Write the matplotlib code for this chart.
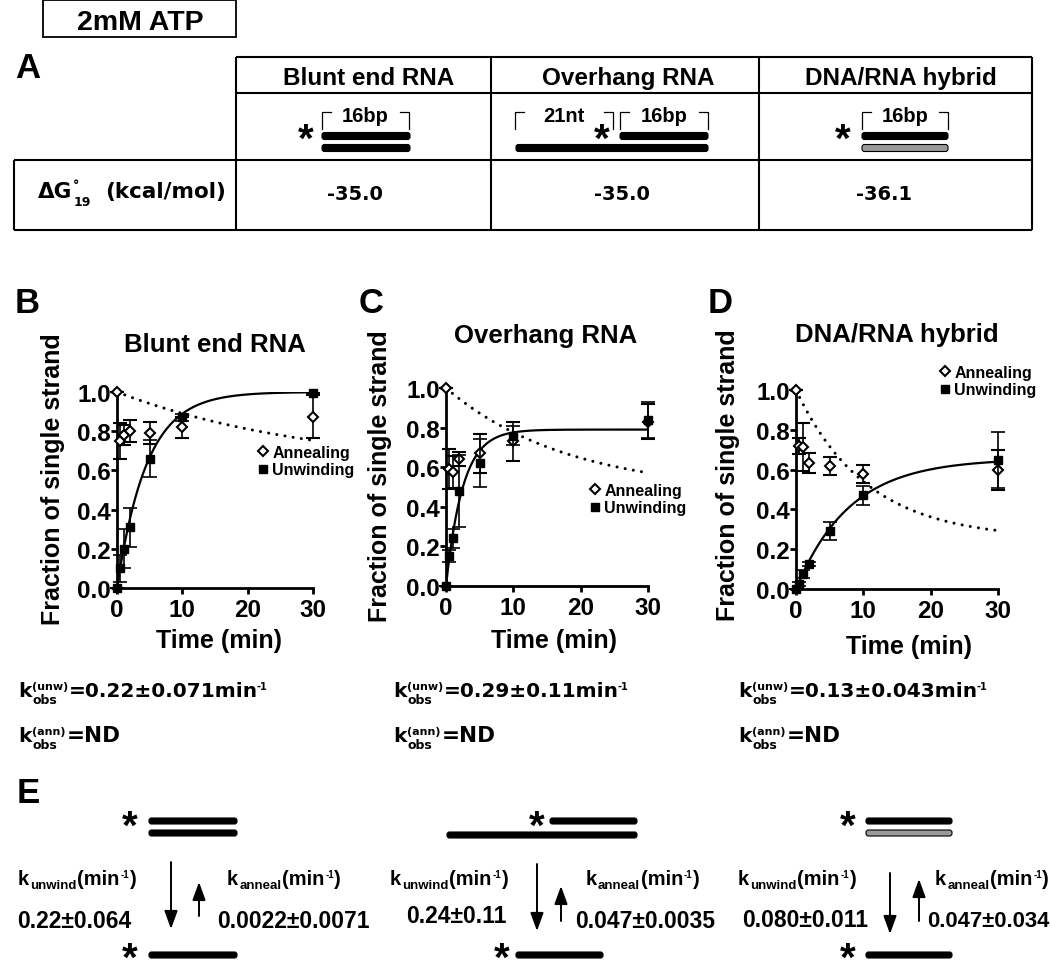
import numpy as np
import matplotlib
matplotlib.use("Agg")
import matplotlib.pyplot as plt
from matplotlib.lines import Line2D
from matplotlib.patches import FancyBboxPatch, Rectangle
from matplotlib.ticker import FormatStrFormatter

plt.rcParams['font.family'] = ['Liberation Sans', 'DejaVu Sans']
plt.rcParams['font.weight'] = 'bold'
plt.rcParams['mathtext.fontset'] = 'custom'
plt.rcParams['mathtext.rm'] = 'Liberation Sans:bold'
plt.rcParams['mathtext.it'] = 'Liberation Sans:bold'
plt.rcParams['mathtext.bf'] = 'Liberation Sans:bold'

W, H = 1050, 978

# time points (min)
time_min = [0, 0.5, 1, 2, 5, 10, 30]

# B: blunt end RNA
blunt_unw = [0.0, 0.10, 0.20, 0.31, 0.66, 0.87, 0.995]
blunt_unw_err = [0.0, 0.07, 0.10, 0.10, 0.095, 0.02, 0.0]
blunt_ann = [1.0, 0.75, 0.78, 0.80, 0.79, 0.82, 0.875]
blunt_ann_err = [0.0, 0.09, 0.05, 0.055, 0.056, 0.055, 0.11]

# C: overhang RNA
over_unw = [0.0, 0.15, 0.24, 0.48, 0.62, 0.76, 0.84]
over_unw_err = [0.0, 0.03, 0.05, 0.18, 0.12, 0.05, 0.09]
over_ann = [1.0, 0.59, 0.575, 0.64, 0.67, 0.73, 0.83]
over_ann_err = [0.0, 0.10, 0.08, 0.035, 0.10, 0.10, 0.09]

# D: DNA/RNA hybrid
hyb_unw = [0.0, 0.025, 0.075, 0.125, 0.29, 0.47, 0.647]
hyb_unw_err = [0.0, 0.01, 0.02, 0.01, 0.045, 0.05, 0.14]
hyb_ann = [1.0, 0.72, 0.715, 0.635, 0.62, 0.58, 0.60]
hyb_ann_err = [0.0, 0.04, 0.12, 0.05, 0.045, 0.045, 0.10]

# fitted curves: unwinding amp*(1-exp(-k t)), annealing c+(1-c)exp(-k t)
unw_fit = [(1.0, 0.22), (0.79, 0.40), (0.655, 0.125)]
ann_fit = [(0.60, 0.032), (0.47, 0.055), (0.25, 0.095)]

titles = ["Blunt end RNA", "Overhang RNA", "DNA/RNA hybrid"]
dG_values = ["-35.0", "-35.0", "-36.1"]
kobs_unw = ["=0.22\u00b10.071min", "=0.29\u00b10.11min", "=0.13\u00b10.043min"]
kunwind = ["0.22\u00b10.064", "0.24\u00b10.11", "0.080\u00b10.011"]
kanneal = ["0.0022\u00b10.0071", "0.047\u00b10.0035", "0.047\u00b10.034"]

series = [
    (blunt_unw, blunt_unw_err, blunt_ann, blunt_ann_err),
    (over_unw, over_unw_err, over_ann, over_ann_err),
    (hyb_unw, hyb_unw_err, hyb_ann, hyb_ann_err),
]

fig = plt.figure(figsize=(10.5, 9.78), dpi=100)
renderer = fig.canvas.get_renderer()

# overlay in pixel units for table, labels and schemes
ax0 = fig.add_axes([0, 0, 1, 1], zorder=0)
ax0.set_xlim(0, W)
ax0.set_ylim(H, 0)
ax0.axis('off')


def hline(x0, x1, y, lw=1.5):
    ax0.plot([x0, x1], [y, y], color='black', lw=lw, solid_capstyle='butt')


def vline(x, y0, y1, lw=1.5):
    ax0.plot([x, x], [y0, y1], color='black', lw=lw, solid_capstyle='butt')


def strand(x0, x1, y, h=7, color='black'):
    ax0.add_patch(FancyBboxPatch((x0, y - h / 2), x1 - x0, h,
                                 boxstyle='round,pad=0,rounding_size=2.5',
                                 fc=color, ec='black', lw=0.8))


def star(x, y, size=29):
    ax0.text(x, y + 0.34 * size * 100 / 72, '$*$', fontsize=size,
             ha='center', va='baseline')


def bracket(x0, x1, label, ytop=113, ybot=130):
    ax0.plot([x0 + 9, x0, x0], [ytop, ytop, ybot], color='black', lw=0.9)
    ax0.plot([x1 - 9, x1, x1], [ytop, ytop, ybot], color='black', lw=0.9)
    ax0.text((x0 + x1) / 2, 122, label, fontsize=14.5, ha='center', va='baseline')


def arrow(x, y_tail, y_tip):
    ax0.annotate('', xy=(x, y_tip), xytext=(x, y_tail),
                 arrowprops=dict(arrowstyle='-|>,head_length=1.1,head_width=0.4',
                                 lw=1.4, color='black', shrinkA=0, shrinkB=0))


def rich(x, y, parts, family='Liberation Sans'):
    # parts: (text, size, dy, gap); gap None keeps x (stacked sub/sup)
    for s, size, dy, gap in parts:
        t = ax0.text(x, y + dy, s, fontsize=size, family=[family, 'DejaVu Sans'],
                     ha='left', va='baseline')
        if gap is not None:
            x += t.get_window_extent(renderer).width + gap


# header box
ax0.add_patch(Rectangle((43, 1), 193, 37, fill=False, ec='black', lw=1.3))
ax0.text(140, 30, '2mM ATP', fontsize=20.5, ha='center', va='baseline')

# panel letters
for lab, x, y in [('A', 15, 78), ('B', 15, 313), ('C', 359, 313), ('D', 708, 313), ('E', 17, 803)]:
    ax0.text(x, y, lab, fontsize=25, ha='left', va='baseline')

# table A
hline(236, 1032, 58)
hline(236, 1032, 94)
hline(14, 1032, 161)
hline(14, 1032, 231)
vline(14, 161, 231)
for x in [236, 491, 759, 1032]:
    vline(x, 58, 231)
for t, x in zip(titles, [369, 628, 901]):
    ax0.text(x, 85, t, fontsize=17.5, ha='center', va='baseline')
rich(38, 198, [('\u0394G', 15.5, 0, 1), ('\u00b0', 9, -9, None), ('19', 9, 8, 14),
               ('(kcal/mol)', 15.5, 0, 0)], family='DejaVu Sans')
for v, x in zip(dG_values, [355, 622, 884]):
    ax0.text(x, 200, v, fontsize=14, family=['DejaVu Sans'], ha='center', va='baseline')

# table schemes
bracket(322, 409, '16bp')
star(306, 137)
strand(322, 410, 137)
strand(322, 410, 149)
bracket(515, 613, '21nt')
bracket(620, 708, '16bp')
star(602, 137)
strand(620, 708, 137)
strand(516, 708, 149)
bracket(862, 948, '16bp')
star(843, 137)
strand(862, 948, 137)
strand(862, 948, 149, color='#9a9a9a')

# kinetic plots B-D
rects = [(117, 393, 313, 589), (446, 389, 648, 587), (796, 391, 998, 590)]
title_pos = [(215, 352), (546, 343), (897, 342)]
ylab_pos = [(53, 479), (380, 476), (728, 475)]
xlab_pos = [(219, 648), (554, 648), (909, 654)]
leg_pos = [(258, 446), (590, 484), (940, 366)]
t_fit = np.linspace(0, 30, 300)

for i, (l, t, r, b) in enumerate(rects):
    ax = fig.add_axes([l / W, 1 - b / H, (r - l) / W, (b - t) / H], zorder=2)
    ax.patch.set_visible(False)
    unw, unw_err, ann, ann_err = series[i]
    amp, k = unw_fit[i]
    ax.plot(t_fit, amp * (1 - np.exp(-k * t_fit)), color='black', lw=1.6, zorder=3)
    c, ka = ann_fit[i]
    ax.plot(t_fit, c + (1 - c) * np.exp(-ka * t_fit), color='black', lw=2.2,
            ls=(0, (0.01, 2.7)), dash_capstyle='round', zorder=3)
    e1 = ax.errorbar(time_min, ann, yerr=ann_err, fmt='D', ms=5.5, mfc='white',
                     mec='black', mew=1.5, ecolor='black', elinewidth=1.2,
                     capsize=5, capthick=1.2, zorder=4)
    e2 = ax.errorbar(time_min, unw, yerr=unw_err, fmt='s', ms=6, mfc='black',
                     mec='black', ecolor='black', elinewidth=1.2,
                     capsize=5, capthick=1.2, zorder=5)
    for cont in (e1, e2):
        for art in cont.get_children():
            art.set_clip_on(False)
    ax.set_xlim(0, 30)
    ax.set_ylim(0, 1)
    ax.set_xticks([0, 10, 20, 30])
    ax.set_yticks([0, 0.2, 0.4, 0.6, 0.8, 1.0])
    ax.yaxis.set_major_formatter(FormatStrFormatter('%.1f'))
    for s in ['top', 'right']:
        ax.spines[s].set_visible(False)
    for s in ['left', 'bottom']:
        ax.spines[s].set_linewidth(2)
    ax.tick_params(axis='both', direction='out', length=4, width=2, labelsize=17.5)
    ax.tick_params(axis='y', pad=0.5)
    ax.tick_params(axis='x', pad=3)
    handles = [Line2D([], [], marker='D', ls='none', ms=5, mfc='white', mec='black', mew=1.5),
               Line2D([], [], marker='s', ls='none', ms=6, mfc='black', mec='black')]
    lx, ly = leg_pos[i]
    ax.legend(handles, ['Annealing', 'Unwinding'], loc='upper left',
              bbox_to_anchor=(lx / W, 1 - ly / H), bbox_transform=fig.transFigure,
              frameon=False, handlelength=0.6, handletextpad=0.3, labelspacing=0.15,
              borderpad=0, borderaxespad=0, prop={'size': 11.5, 'weight': 'bold'})
    tx, ty = title_pos[i]
    ax0.text(tx, ty, titles[i], fontsize=18.5, ha='center', va='baseline')
    yx, yy = ylab_pos[i]
    ax0.text(yx, yy, 'Fraction of single strand', fontsize=18, rotation=90,
             ha='center', va='center')
    xx, xy = xlab_pos[i]
    ax0.text(xx, xy, 'Time (min)', fontsize=18, ha='center', va='baseline')

# observed rate constants
for v, x in zip(kobs_unw, [18, 393, 738]):
    rich(x, 697, [('k', 14.5, 0, 1), ('obs', 9, 7, None), ('(unw)', 8, -7, 0.5),
                  (v, 14.5, 0, -2), ('-1', 7, -7, 0)], family='DejaVu Sans')
    rich(x, 742, [('k', 14.5, 0, 1), ('obs', 9, 7, None), ('(ann)', 8, -7, 0.5),
                  ('=ND', 15.5, 0, 0)], family='DejaVu Sans')

# E: schemes
star(130, 824)
strand(149, 237, 822, h=6)
strand(149, 237, 834, h=6)
star(537, 824)
strand(550, 637, 822, h=6)
strand(447, 637, 836, h=6)
star(848, 824)
strand(866, 952, 822, h=6)
strand(866, 952, 834, h=6, color='#9a9a9a')
for sx, x0, x1 in [(130, 149, 237), (502, 516, 603), (848, 866, 952)]:
    star(sx, 956)
    strand(x0, x1, 956, h=6)

arrow(171, 863, 930)
arrow(199, 917, 883)
arrow(537, 865, 932)
arrow(561, 922, 887)
arrow(890, 874, 935)
arrow(919, 922, 880)

for x in [18, 390, 738]:
    rich(x, 885, [('k', 14.5, 0, 1), ('unwind', 9.5, 4, 1), ('(min', 14.5, 0, 0.5),
                  ('-1', 7, -7, 0.5), (')', 14.5, 0, 0)])
for x in [227, 586, 935]:
    rich(x, 885, [('k', 14.5, 0, 1), ('anneal', 9.5, 4, 1), ('(min', 14.5, 0, 0.5),
                  ('-1', 7, -7, 0.5), (')', 14.5, 0, 0)])
for v, x, y in zip(kunwind, [17, 406, 742], [928, 923, 927]):
    ax0.text(x, y, v, fontsize=16.5, ha='left', va='baseline')
for v, x, y, fs in zip(kanneal, [217, 575, 927], [928, 928, 927], [16.5, 16.5, 15.8]):
    ax0.text(x, y, v, fontsize=fs, ha='left', va='baseline')

fig.savefig('out.png', dpi=100)
